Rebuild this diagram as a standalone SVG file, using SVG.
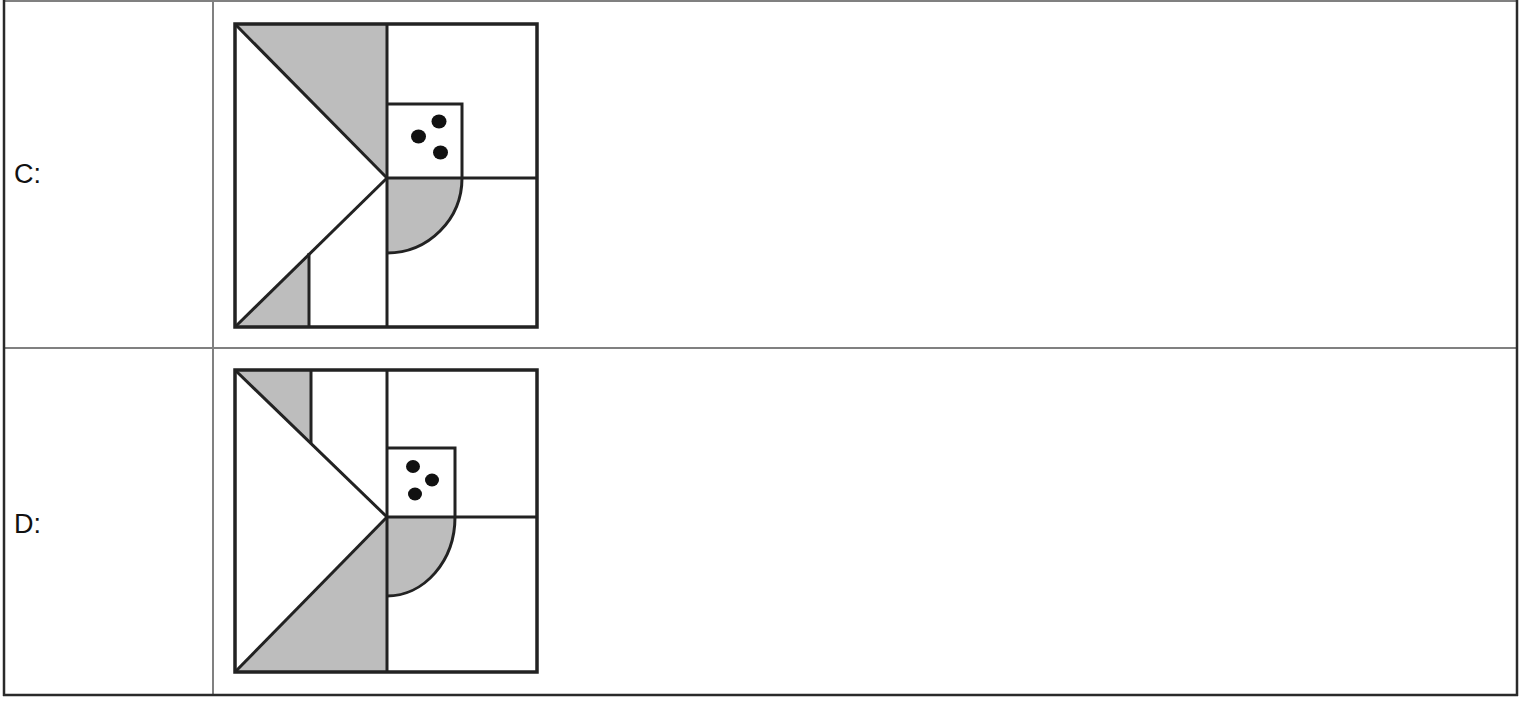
<svg xmlns="http://www.w3.org/2000/svg" width="1527" height="701" viewBox="0 0 1527 701">
<style>
.grid{stroke:#808080;stroke-width:2;fill:none}
.border{stroke:#2a2a2a;stroke-width:2.5;fill:none}
.fig{stroke:#222;stroke-width:3.5;fill:none;stroke-linejoin:miter}
.thin{stroke:#222;stroke-width:3;fill:none}
.gray{fill:#bdbdbd;stroke:none}
.dot{fill:#111}
.lbl{font-family:"Liberation Sans",Arial,sans-serif;font-size:27px;fill:#111}
</style>
<rect width="1527" height="701" fill="#fff"/>
<g id="table">
<line class="grid" x1="4" y1="1" x2="1517" y2="1"/>
<line class="grid" x1="4" y1="348" x2="1517" y2="348"/>
<line class="grid" x1="213" y1="1" x2="213" y2="695"/>
<line class="border" x1="4" y1="0" x2="4" y2="696"/>
<line class="border" x1="1517" y1="0" x2="1517" y2="696"/>
<line class="border" x1="3" y1="695" x2="1518" y2="695"/>
</g>
<g id="label-c"><text class="lbl" x="14" y="183">C:</text></g>
<g id="label-d"><text class="lbl" x="14" y="533">D:</text></g>
<g id="figure-c">
<polygon class="gray" points="235,24 387,24 387,178"/>
<polygon class="gray" points="235,327 309,253 309,327"/>
<path class="gray" d="M387,178 L462,178 A75,75 0 0 1 387,253 Z"/>
<path class="thin" d="M462,178 A75,75 0 0 1 387,253"/>
<line class="thin" x1="235" y1="24" x2="387" y2="178"/>
<line class="thin" x1="387" y1="178" x2="235" y2="327"/>
<line class="thin" x1="387" y1="24" x2="387" y2="327"/>
<line class="thin" x1="387" y1="178" x2="537" y2="178"/>
<polyline class="thin" points="387,104 462,104 462,178"/>
<line class="thin" x1="309" y1="253" x2="309" y2="327"/>
<rect class="fig" x="235" y="24" width="302" height="303"/>
<ellipse class="dot" cx="439" cy="121.5" rx="7.5" ry="7"/>
<ellipse class="dot" cx="418.5" cy="136.5" rx="7.5" ry="7"/>
<ellipse class="dot" cx="440.5" cy="152.5" rx="7.5" ry="7"/>
</g>
<g id="figure-d">
<polygon class="gray" points="235,370 311,370 311,443"/>
<polygon class="gray" points="387,517 235,672 387,672"/>
<path class="gray" d="M387,517 L455,517 A68,79 0 0 1 387,596 Z"/>
<path class="thin" d="M455,517 A68,79 0 0 1 387,596"/>
<line class="thin" x1="235" y1="370" x2="387" y2="517"/>
<line class="thin" x1="387" y1="517" x2="235" y2="672"/>
<line class="thin" x1="387" y1="370" x2="387" y2="672"/>
<line class="thin" x1="387" y1="517" x2="537" y2="517"/>
<polyline class="thin" points="387,448 455,448 455,517"/>
<line class="thin" x1="311" y1="370" x2="311" y2="443"/>
<rect class="fig" x="235" y="370" width="302" height="302"/>
<ellipse class="dot" cx="413" cy="466.5" rx="7" ry="6.5"/>
<ellipse class="dot" cx="432" cy="480" rx="7" ry="6.5"/>
<ellipse class="dot" cx="415" cy="494" rx="7" ry="6.5"/>
</g>
</svg>
